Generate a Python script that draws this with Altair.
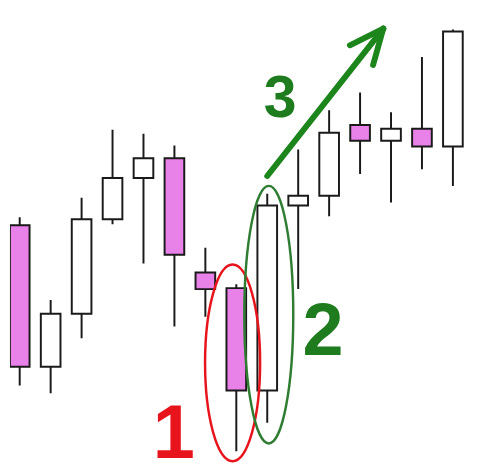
import altair as alt
import pandas as pd

# candle data (index, open, high, low, close)
idx    = list(range(15))
opens  = [24.2, 9.8, 15.2, 24.8, 29.0, 31.0, 19.4, 17.8, 7.4, 26.2, 27.2, 34.4, 32.8, 34.0, 32.2]
highs  = [25.0, 16.6, 27.0, 33.9, 33.5, 32.3, 21.9, 18.2, 27.4, 31.9, 35.9, 37.7, 35.7, 41.3, 44.1]
lows   = [7.9, 7.1, 12.7, 24.3, 20.3, 13.9, 14.9, 1.2, 4.1, 17.7, 25.1, 29.4, 26.5, 29.9, 28.2]
closes = [9.8, 15.2, 24.8, 29.0, 31.0, 21.2, 17.7, 7.4, 26.2, 27.2, 33.6, 32.8, 34.0, 32.2, 43.9]

# annotation anchors
ell_names = ["1", "2"]
ell_x = [6.88, 8.05]
ell_y = [10.2, 15.1]

arrow_x  = [8.0, 11.75, 11.75]
arrow_y  = [29.2, 44.2, 44.2]
arrow_x2 = [11.75, 10.67, 11.42]
arrow_y2 = [44.2, 42.5, 40.5]

label_text = ["1", "2", "3"]
label_x = [4.98, 9.80, 8.42]
label_y = [0.5, 11.0, 35.2]

candles = pd.DataFrame({"i": idx, "open": opens, "high": highs, "low": lows, "close": closes})
candles["dir"] = ["up" if c >= o else "down" for o, c in zip(opens, closes)]
ells = pd.DataFrame({"name": ell_names, "x": ell_x, "y": ell_y})
arrows = pd.DataFrame({"x": arrow_x, "y": arrow_y, "x2": arrow_x2, "y2": arrow_y2})
labels = pd.DataFrame({"t": label_text, "x": label_x, "y": label_y})

xs = alt.Scale(domain=[-0.156, 14.62], nice=False, zero=False)
ys = alt.Scale(domain=[0, 45.9], nice=False, zero=False)

PINK = "#e882e8"
RED = "#e8141c"
GREEN = "#1e7b1e"

wicks = alt.Chart(candles).mark_rule(color="#1a1a1a", strokeWidth=2, clip=True).encode(
    x=alt.X("i:Q", scale=xs, axis=None),
    y=alt.Y("low:Q", scale=ys, axis=None),
    y2="high:Q",
)
bodies = alt.Chart(candles).mark_bar(size=20, stroke="#1a1a1a", strokeWidth=2, clip=True).encode(
    x=alt.X("i:Q", scale=xs, axis=None),
    y=alt.Y("open:Q", scale=ys, axis=None),
    y2="close:Q",
    color=alt.Color("dir:N", scale=alt.Scale(domain=["down", "up"], range=[PINK, "#ffffff"]), legend=None),
)

red_ell = alt.Chart(ells).transform_filter(alt.datum.name == "1").mark_point(
    shape="M -0.28 0 A 0.28 1 0 1 0 0.28 0 A 0.28 1 0 1 0 -0.28 0 Z",
    size=40000, filled=False, stroke=RED, strokeWidth=2.5, opacity=1,
).encode(x=alt.X("x:Q", scale=xs, axis=None), y=alt.Y("y:Q", scale=ys, axis=None))

green_ell = alt.Chart(ells).transform_filter(alt.datum.name == "2").mark_point(
    shape="M -0.19 0 A 0.19 1 0 1 0 0.19 0 A 0.19 1 0 1 0 -0.19 0 Z",
    size=68644, filled=False, stroke="#2e7d32", strokeWidth=2.5, opacity=1,
).encode(x=alt.X("x:Q", scale=xs, axis=None), y=alt.Y("y:Q", scale=ys, axis=None))

arrow = alt.Chart(arrows).mark_rule(color="#1c851c", strokeWidth=6, strokeCap="round").encode(
    x=alt.X("x:Q", scale=xs, axis=None),
    y=alt.Y("y:Q", scale=ys, axis=None),
    x2="x2:Q",
    y2="y2:Q",
)

def label(t, color, size):
    return alt.Chart(labels).transform_filter(alt.datum.t == t).mark_text(
        font="Liberation Sans", fontWeight="bold", fontSize=size, color=color,
        align="center", baseline="alphabetic",
    ).encode(
        x=alt.X("x:Q", scale=xs, axis=None),
        y=alt.Y("y:Q", scale=ys, axis=None),
        text="t:N",
    )

chart = alt.layer(
    wicks, bodies, red_ell, green_ell, arrow,
    label("1", RED, 77), label("2", GREEN, 75), label("3", GREEN, 60),
).properties(
    width=475, height=459,
    padding={"left": 2, "top": 0, "right": 0, "bottom": 0},
    autosize=alt.AutoSizeParams(type="none"),
    background="white",
).configure_view(stroke=None)

chart.save("out.html", embed_options={"renderer": "svg", "actions": False})
